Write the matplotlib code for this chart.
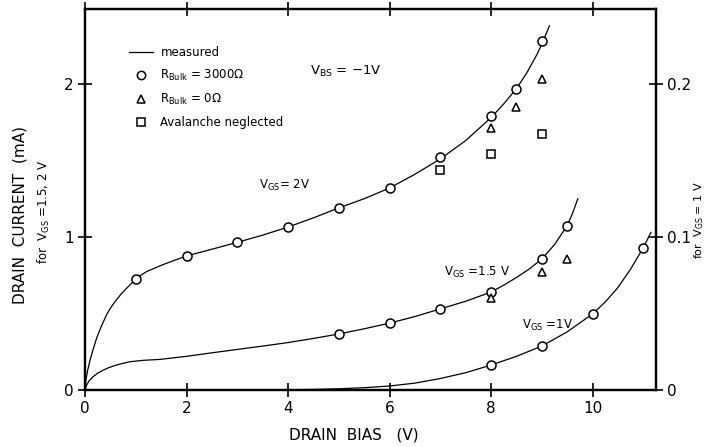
import matplotlib
matplotlib.use('Agg')
import matplotlib.pyplot as plt
from matplotlib.lines import Line2D

plt.rcParams['font.family'] = ['DejaVu Sans']
plt.rcParams['mathtext.fontset'] = 'dejavusans'

# ---- measured curves ----
# V_GS = 2 V  (left axis, mA)
meas2_x = [0, 0.02, 0.05, 0.1, 0.16, 0.23, 0.32, 0.43, 0.52, 0.62, 0.72, 0.82, 0.91, 1.0, 1.1, 1.22, 1.35, 1.48, 1.7, 2, 2.5, 3, 3.5, 4, 4.5, 5, 5.5, 6, 6.5, 7, 7.5, 8, 8.25, 8.5, 8.7, 8.9, 9.0, 9.15]
meas2_y = [0, 0.07, 0.125, 0.196, 0.265, 0.34, 0.415, 0.495, 0.545, 0.59, 0.63, 0.665, 0.695, 0.725, 0.75, 0.775, 0.793, 0.812, 0.84, 0.876, 0.92, 0.965, 1.012, 1.065, 1.125, 1.19, 1.25, 1.32, 1.41, 1.51, 1.63, 1.78, 1.87, 1.97, 2.07, 2.19, 2.26, 2.38]
# V_GS = 1.5 V (left axis, mA)
meas15_x = [0, 0.03, 0.08, 0.16, 0.25, 0.36, 0.46, 0.56, 0.72, 0.89, 1.15, 1.48, 2, 2.5, 3, 3.5, 4, 4.5, 5, 5.5, 6, 6.5, 7, 7.5, 8, 8.25, 8.5, 8.75, 9, 9.25, 9.5, 9.6, 9.71]
meas15_y = [0, 0.03, 0.06, 0.087, 0.11, 0.13, 0.145, 0.157, 0.172, 0.185, 0.194, 0.20, 0.22, 0.243, 0.265, 0.287, 0.31, 0.337, 0.366, 0.4, 0.437, 0.48, 0.53, 0.58, 0.64, 0.685, 0.735, 0.79, 0.856, 0.95, 1.074, 1.15, 1.25]
# V_GS = 1 V (right axis, mA)
meas1_x = [0, 3, 4, 4.5, 5, 5.5, 6, 6.5, 7, 7.5, 8, 8.5, 9, 9.5, 10, 10.25, 10.5, 10.75, 11, 11.15]
meas1_y = [0, 0, 0.0002, 0.0004, 0.0008, 0.0015, 0.0026, 0.0045, 0.0075, 0.0113, 0.0163, 0.022, 0.0287, 0.038, 0.0497, 0.0575, 0.067, 0.079, 0.093, 0.103]

# ---- simulated points ----
# R_Bulk = 3000 ohm (circles)
circ2_x = [1, 2, 3, 4, 5, 6, 7, 8, 8.5, 9]
circ2_y = [0.725, 0.876, 0.965, 1.065, 1.19, 1.32, 1.52, 1.79, 1.97, 2.28]
circ15_x = [5, 6, 7, 8, 9, 9.5]
circ15_y = [0.366, 0.437, 0.53, 0.64, 0.856, 1.074]
circ1_x = [8, 9, 10, 11]
circ1_y = [0.0163, 0.0287, 0.0497, 0.093]
# R_Bulk = 0 ohm (triangles)
tri2_x = [8, 8.5, 9]
tri2_y = [1.71, 1.85, 2.03]
tri15_x = [8, 9, 9.5]
tri15_y = [0.60, 0.77, 0.855]
# Avalanche neglected (squares)
sq2_x = [7, 8, 9]
sq2_y = [1.44, 1.54, 1.67]

x_ticks = [0, 2, 4, 6, 8, 10]
y_left_ticks = [0, 1, 2]
y_right_ticks = [0, 0.1, 0.2]
y_right_labels = ['0', '0.1', '0.2']

fig = plt.figure(figsize=(7.09, 4.47), dpi=100)
ax = fig.add_axes([85/709, 57/447, 571/709, 381/447])
ax2 = ax.twinx()

lw = 0.9
mk = dict(markerfacecolor='white', markeredgecolor='black', markeredgewidth=1.1, linestyle='none', color='black')

ax.plot(meas2_x, meas2_y, color='black', lw=lw, zorder=2)
ax.plot(meas15_x, meas15_y, color='black', lw=lw, zorder=2)
ax2.plot(meas1_x, meas1_y, color='black', lw=lw, zorder=2)

ax.plot(circ2_x, circ2_y, marker='o', markersize=6.5, zorder=3, **mk)
ax.plot(circ15_x, circ15_y, marker='o', markersize=6.5, zorder=3, **mk)
ax2.plot(circ1_x, circ1_y, marker='o', markersize=6.5, zorder=3, **mk)
ax.plot(tri2_x, tri2_y, marker='^', markersize=6, zorder=3, **mk)
ax.plot(tri15_x, tri15_y, marker='^', markersize=6, zorder=3, **mk)
ax.plot(sq2_x, sq2_y, marker='s', markersize=5.5, zorder=3, **mk)

ax.set_xlim(0, 11.25)
ax.set_ylim(0, 2.49)
ax2.set_ylim(0, 0.249)

for a in (ax, ax2):
    for s in a.spines.values():
        s.set_linewidth(1.6)

ax.set_xticks(x_ticks)
ax.set_xticklabels([str(t) for t in x_ticks])
ax.set_yticks(y_left_ticks)
ax.set_yticklabels([str(t) for t in y_left_ticks])
ax.tick_params(axis='both', direction='inout', length=10, width=1.2, labelsize=11, pad=3,
               top=True, right=False, labeltop=False)
ax2.set_yticks(y_right_ticks)
ax2.set_yticklabels(y_right_labels)
ax2.tick_params(axis='y', direction='inout', length=10, width=1.2, labelsize=11, pad=3)

# axis labels
ax.text(0.47, -0.118, 'DRAIN  BIAS   (V)', transform=ax.transAxes, ha='center', va='center', fontsize=11)
ax.text(-0.114, 0.459, 'DRAIN  CURRENT  (mA)', transform=ax.transAxes, rotation=90,
        ha='center', va='center', fontsize=11)
ax.text(-0.072, 0.467, r'for  V$_{\mathrm{GS}}$ =1.5, 2 V', transform=ax.transAxes, rotation=90,
        ha='center', va='center', fontsize=8.5)
ax.text(1.076, 0.446, r'for  V$_{\mathrm{GS}}$ = 1 V', transform=ax.transAxes, rotation=90,
        ha='center', va='center', fontsize=8)

# curve labels
ax.text(3.94, 1.34, r'V$_{\mathrm{GS}}$= 2V', ha='center', va='center', fontsize=8.5)
ax.text(7.72, 0.77, r'V$_{\mathrm{GS}}$ =1.5 V', ha='center', va='center', fontsize=8.5)
ax.text(9.12, 0.425, r'V$_{\mathrm{GS}}$ =1V', ha='center', va='center', fontsize=8.5)
ax.text(4.43, 2.08, r'V$_{\mathrm{BS}}$ = $-$1V', ha='left', va='center', fontsize=9.5)

handles = [
    Line2D([], [], color='black', lw=lw),
    Line2D([], [], marker='o', markersize=6, **mk),
    Line2D([], [], marker='^', markersize=6, **mk),
    Line2D([], [], marker='s', markersize=5.5, **mk),
]
labels = ['measured', r'R$_{\mathrm{Bulk}}$ = 3000$\Omega$', r'R$_{\mathrm{Bulk}}$ = 0$\Omega$', 'Avalanche neglected']
ax.legend(handles, labels, loc='upper left', bbox_to_anchor=(0.066, 0.918), frameon=False,
          fontsize=8.5, handlelength=2.1, handletextpad=0.6, labelspacing=0.75, borderpad=0)

fig.savefig('out.png', dpi=100)
